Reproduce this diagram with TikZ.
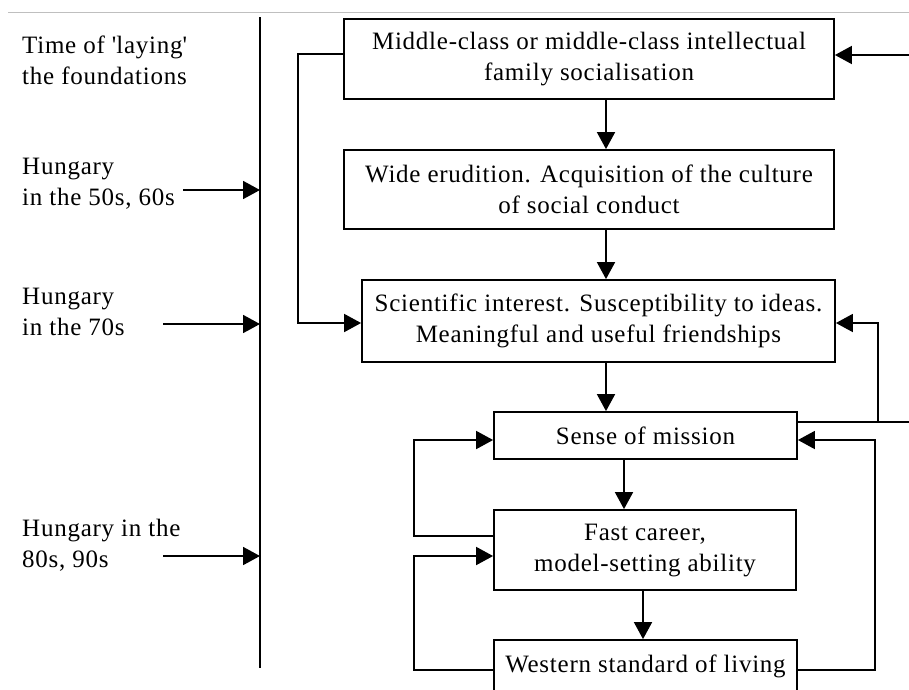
\documentclass[tikz,border=0pt]{standalone}
\usepackage{fontspec}
\setmainfont{Liberation Serif}[LetterSpace=3]
\usetikzlibrary{arrows.meta,calc}
\tikzset{
  box/.style={draw=black, line width=1.8pt, inner sep=0pt, align=center, font=\fontsize{25}{31}\selectfont},
  lbl/.style={inner sep=0pt, anchor=west, align=left, font=\fontsize{25}{31}\selectfont},
  conn/.style={draw=black, line width=1.8pt},
  arr/.style={conn, -{Triangle[length=17pt,width=18pt]}},
}
\begin{document}
\begin{tikzpicture}[x=1pt,y=1pt]
\useasboundingbox (0,0) rectangle (909,-689);
\fill[white] (0,0) rectangle (909,-689);
\draw[black!25, line width=1pt] (8,-12) -- (909,-12);

% left column labels
\node[lbl] (t1) at (22,-60) {Time of \textquotesingle laying\textquotesingle\\the foundations};
\node[lbl] (t2) at (22,-184) {Hungary\\in the 50s, 60s};
\node[lbl] (t3) at (22,-312) {Hungary\\in the 70s};
\node[lbl] (t4) at (22,-545) {Hungary in the\\80s, 90s};

% timeline
\coordinate (vt) at (260,-17);
\coordinate (vb) at (260,-668);
\draw[conn] (vt) -- (vb);
\coordinate (a1) at (183,-190);
\coordinate (a2) at (163,-324);
\coordinate (a3) at (163,-556);
\draw[arr] (a1) -- (a1 -| vt);
\draw[arr] (a2) -- (a2 -| vt);
\draw[arr] (a3) -- (a3 -| vt);

% boxes
\node[box, minimum width=490pt, minimum height=80pt] (b1) at (589,-59) {Middle-class or middle-class intellectual\\family socialisation};
\node[box, minimum width=490pt, minimum height=79pt] (b2) at (589,-189.5) {Wide erudition. Acquisition of the culture\\of social conduct};
\node[box, minimum width=473pt, minimum height=82pt] (b3) at (598.5,-321) {Scientific interest. Susceptibility to ideas.\\Meaningful and useful friendships};
\node[box, minimum width=303pt, minimum height=47pt] (b4) at (645.5,-435.5) {Sense of mission};
\node[box, minimum width=302pt, minimum height=80pt] (b5) at (645,-550) {Fast career,\\model-setting ability};
\node[box, minimum width=303pt, minimum height=52pt] (b6) at (645.5,-666) {Western standard of living};

% vertical flow
\coordinate (xa) at (606,0);
\coordinate (xb) at (624,0);
\coordinate (xc) at (643,0);
\draw[arr] (b1.south -| xa) -- (b2.north -| xa);
\draw[arr] (b2.south -| xa) -- (b3.north -| xa);
\draw[arr] (b3.south -| xa) -- (b4.north -| xa);
\draw[arr] (b4.south -| xb) -- (b5.north -| xb);
\draw[arr] (b5.south -| xc) -- (b6.north -| xc);

% top right incoming
\coordinate (tr) at (909,-55);
\draw[arr] (tr) -- (tr -| b1.east);

% b1 -> b3 on the left
\coordinate (l1) at (298,-54);
\coordinate (l1b) at (298,-323);
\draw[arr] (l1 -| b1.west) -- (l1) -- (l1b) -- (l1b -| b3.west);

% b4 -> right edge, and b4 -> b3
\coordinate (r1) at (878,-422);
\coordinate (r1b) at (878,-323);
\coordinate (redge) at (909,-422);
\draw[conn] (redge -| b4.east) -- (redge);
\draw[arr] (r1) -- (r1b) -- (r1b -| b3.east);

% b6 -> b4 on the right
\coordinate (r2) at (875,-670);
\coordinate (r2b) at (875,-440);
\draw[arr] (r2 -| b6.east) -- (r2) -- (r2b) -- (r2b -| b4.east);

% left loops
\coordinate (la) at (414,-536);
\coordinate (lb) at (414,-440);
\draw[arr] (la -| b5.west) -- (la) -- (lb) -- (lb -| b4.west);
\coordinate (lc) at (414,-670);
\coordinate (ld) at (414,-556);
\draw[arr] (lc -| b6.west) -- (lc) -- (ld) -- (ld -| b5.west);
\end{tikzpicture}
\end{document}
